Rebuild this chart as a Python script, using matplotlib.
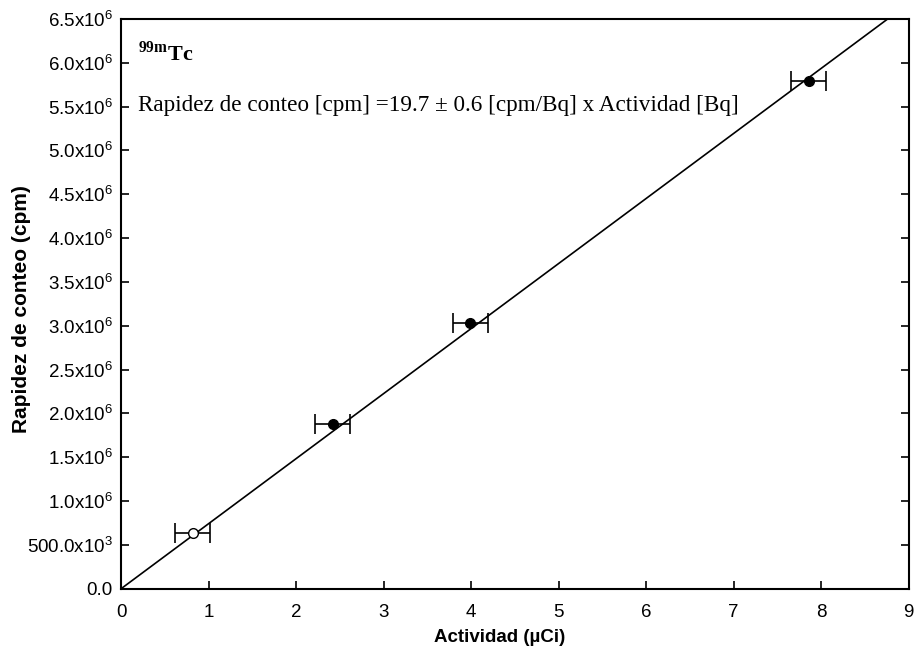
import numpy as np
import matplotlib
matplotlib.use('Agg')
import matplotlib.pyplot as plt

plt.rcParams['font.family'] = ['Liberation Sans', 'DejaVu Sans']
plt.rcParams['mathtext.fontset'] = 'custom'
plt.rcParams['mathtext.rm'] = 'Liberation Sans'
plt.rcParams['mathtext.it'] = 'Liberation Sans'

# datos
actividad = [0.82, 2.42, 3.99, 7.86]          # uCi
rapidez = [0.635e6, 1.88e6, 3.03e6, 5.79e6]   # cpm
err_act = [0.2, 0.2, 0.2, 0.2]
abierto = [True, False, False, False]

pendiente = 7.42e5   # cpm/uCi (recta de ajuste)
x_recta = [0, 9]

y_ticks = [0, 0.5e6, 1.0e6, 1.5e6, 2.0e6, 2.5e6, 3.0e6, 3.5e6, 4.0e6,
           4.5e6, 5.0e6, 5.5e6, 6.0e6, 6.5e6]
y_labels = ['0.0', '500.0x10$^3$'] + ['%.1fx10$^6$' % (v / 1e6) for v in y_ticks[2:]]

fig = plt.figure(figsize=(9.17, 6.52), dpi=100)
ax = fig.add_axes([0.132, 0.097, 0.859, 0.874])

# recta de ajuste
ax.plot(x_recta, [pendiente * x for x in x_recta], color='black', lw=1.2, zorder=2)

# puntos con barras de error
for x, y, e, ab in zip(actividad, rapidez, err_act, abierto):
    ax.errorbar(x, y, xerr=e, fmt='o', ms=7,
                mfc='white' if ab else 'black', mec='black', ecolor='black',
                elinewidth=1.2, capsize=7, capthick=1.2, zorder=3)

ax.set_xlim(0, 9)
ax.set_ylim(0, 6.5e6)
ax.set_xticks(range(10))
ax.set_yticks(y_ticks)
ax.set_yticklabels(y_labels)
ax.tick_params(direction='in', length=6, width=1.2, labelsize=13.5,
               right=True, top=False)
ax.tick_params(axis='x', pad=11)
ax.tick_params(axis='y', pad=6)
for s in ax.spines.values():
    s.set_linewidth(1.5)

ax.set_xlabel('Actividad (µCi)', fontsize=13.5, fontweight='bold')
ax.xaxis.set_label_coords(0.481, -0.07)
ax.set_ylabel('Rapidez de conteo (cpm)', fontsize=15, fontweight='bold')
ax.yaxis.set_label_coords(-0.114, 0.49)

# textos
ax.text(0.021, 0.94, r'$^{\mathregular{99m}}$Tc', transform=ax.transAxes,
        fontsize=16, fontweight='bold', family='Liberation Serif', va='center')
ax.text(0.021, 0.848, 'Rapidez de conteo [cpm] =19.7 ± 0.6 [cpm/Bq] x Actividad [Bq]',
        transform=ax.transAxes, fontsize=16.7, family='Liberation Serif', va='center')

fig.savefig('out.png', dpi=100)
